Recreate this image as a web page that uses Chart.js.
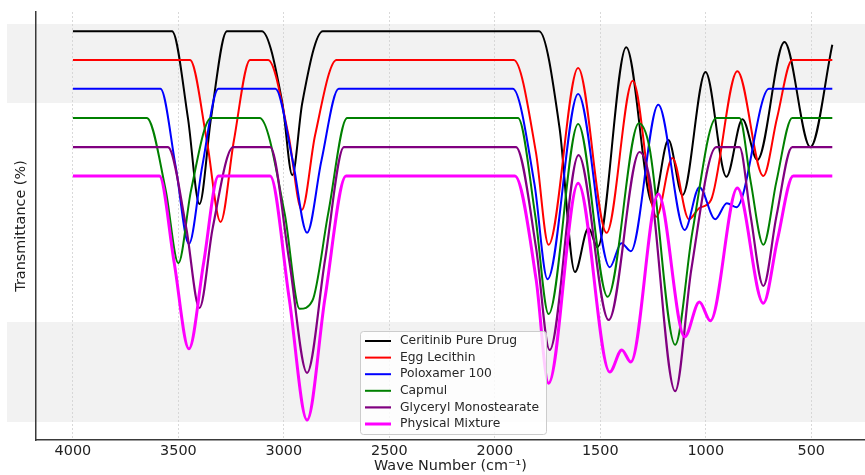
<!DOCTYPE html>
<html>
<head>
<meta charset="utf-8">
<title>FTIR spectra</title>
<script src="https://cdn.jsdelivr.net/npm/chart.js@4.4.1/dist/chart.umd.min.js"></script>
<style>
  body { margin: 0; background: #fff; }
  canvas { display: block; }
</style>
</head>
<body>
<canvas id="ftirChart" width="865" height="475"></canvas>
<script>
// Wave number ticks along the (reversed) x axis
const xTicks = [4000, 3500, 3000, 2500, 2000, 1500, 1000, 500];

// Each spectrum: wave numbers (cm-1) and offset transmittance values
const ceritinibWn = [4000, 3530, 3455, 3400, 3345, 3270, 3105, 3007, 2960, 2913, 2815, 1790, 1693, 1620, 1556, 1513, 1377, 1250, 1177, 1110, 1001, 902, 826, 755, 627, 504, 400];
const ceritinibT  = [102.2, 102.2, 80.6, 59, 80.6, 102.2, 102.2, 84.2, 66.2, 84.2, 102.2, 102.2, 78, 42, 53, 48.2, 98.2, 58.8, 75, 61.2, 92, 65.8, 80.2, 70, 99.5, 73.2, 98.8];

const lecithinWn = [4000, 3445, 3365, 3300, 3237, 3160, 3075, 2978, 2915, 2852, 2750, 1910, 1805, 1745, 1605, 1470, 1346, 1234, 1158, 1080, 1030, 975, 850, 727, 662, 590, 400];
const lecithinT  = [95, 95, 74.8, 54.5, 74.8, 95, 95, 76.2, 57.5, 76.2, 95, 95, 71.9, 48.8, 93, 51.8, 89.8, 55.8, 70.5, 55.2, 58, 60, 92.2, 66, 80.5, 95, 95];

const poloxamerWn = [4000, 3585, 3513, 3450, 3387, 3310, 3040, 2958, 2890, 2822, 2740, 1915, 1812, 1750, 1605, 1455, 1400, 1355, 1225, 1100, 1030, 955, 900, 855, 700, 400];
const poloxamerT  = [87.8, 87.8, 68.4, 49, 68.4, 87.8, 87.8, 69.8, 51.8, 69.8, 87.8, 87.8, 64, 40.2, 86.5, 43.2, 49.2, 47.2, 83.8, 52.5, 63.2, 55.2, 59.2, 58.2, 87.8, 87.8];

const capmulWn = [4000, 3650, 3560, 3500, 3440, 3345, 3115, 2996, 2925, 2865, 2790, 2700, 1890, 1808, 1745, 1605, 1465, 1317, 1267, 1145, 1063, 950, 840, 787, 727, 665, 590, 400];
const capmulT  = [80.5, 80.5, 62.4, 44.2, 62.4, 80.5, 80.5, 56.6, 32.8, 34.8, 56.6, 80.5, 80.5, 56, 31.5, 79, 35.8, 79.2, 73.2, 23.8, 52.1, 80.5, 80.5, 64.6, 48.8, 64.6, 80.5, 80.5];

const gmsWn = [4000, 3550, 3463, 3400, 3337, 3240, 3065, 2975, 2890, 2805, 2715, 1900, 1804, 1740, 1603, 1460, 1314, 1265, 1145, 1068, 950, 840, 787, 727, 665, 590, 400];
const gmsT  = [73.2, 73.2, 53.1, 33, 53.1, 73.2, 73.2, 45, 16.8, 45, 73.2, 73.2, 47.9, 22.5, 71.2, 30, 72, 65, 12.2, 42.8, 73.2, 73.2, 55.9, 38.5, 55.9, 73.2, 73.2];

const mixtureWn = [4000, 3590, 3520, 3450, 3380, 3310, 3065, 2975, 2890, 2805, 2705, 1905, 1804, 1745, 1605, 1455, 1398, 1355, 1225, 1100, 1030, 978, 850, 727, 660, 585, 400];
const mixtureT  = [66, 66, 44.4, 22.8, 44.4, 66, 66, 35.5, 5, 35.5, 66, 66, 40.1, 14.2, 64.2, 17, 22.5, 19.5, 61.5, 25.8, 34.5, 29.8, 63, 34.2, 50.1, 66, 66];

const seriesLabels = ['Ceritinib Pure Drug', 'Egg Lecithin', 'Poloxamer 100', 'Capmul', 'Glyceryl Monostearate', 'Physical Mixture'];

const spectra = [
  [ceritinibWn, ceritinibT],
  [lecithinWn, lecithinT],
  [poloxamerWn, poloxamerT],
  [capmulWn, capmulT],
  [gmsWn, gmsT],
  [mixtureWn, mixtureT]
];

const lineColors = ['#000000', '#ff0000', '#0000ff', '#008000', '#800080', '#ff00ff'];
const lineWidths = [2, 2, 2, 2, 2.2, 3];

const FONT = 'DejaVu Sans';

// light grey background bands behind the plot
const bands = {
  id: 'bands',
  beforeDraw(chart) {
    const ctx = chart.ctx;
    ctx.save();
    ctx.fillStyle = '#f2f2f2';
    ctx.fillRect(7, 24, chart.width - 7, 79);
    ctx.fillRect(7, 322, chart.width - 7, 100);
    ctx.restore();
  }
};

// boxed legend at the bottom centre of the plot area
const legendBox = {
  id: 'legendBox',
  afterDraw(chart) {
    const ctx = chart.ctx;
    const x = 360, y = 331, w = 186, h = 103, rowH = 16.6;
    ctx.save();
    ctx.beginPath();
    ctx.roundRect(x + 0.5, y + 0.5, w, h, 3);
    ctx.fillStyle = 'rgba(255,255,255,0.8)';
    ctx.fill();
    ctx.strokeStyle = '#cccccc';
    ctx.lineWidth = 1;
    ctx.stroke();
    ctx.font = '12.3px "' + FONT + '"';
    ctx.textBaseline = 'middle';
    chart.data.datasets.forEach((ds, i) => {
      const cy = y + 10 + i * rowH;
      ctx.strokeStyle = ds.borderColor;
      ctx.lineWidth = ds.borderWidth;
      ctx.beginPath();
      ctx.moveTo(x + 5, cy);
      ctx.lineTo(x + 31, cy);
      ctx.stroke();
      ctx.fillStyle = '#262626';
      ctx.fillText(ds.label, x + 40, cy);
    });
    ctx.restore();
  }
};

const ctx = document.getElementById('ftirChart').getContext('2d');

const chart = new Chart(ctx, {
  type: 'line',
  data: {
    datasets: spectra.map(([wn, t], i) => ({
      label: seriesLabels[i],
      data: wn.map((w, k) => ({ x: w, y: t[k] })),
      borderColor: lineColors[i],
      borderWidth: lineWidths[i],
      order: spectra.length - 1 - i,
      cubicInterpolationMode: 'monotone',
      pointRadius: 0,
      fill: false
    }))
  },
  options: {
    responsive: false,
    animation: false,
    devicePixelRatio: 1,
    events: [],
    layout: { padding: { top: 12, left: 0, right: 0, bottom: 0 } },
    plugins: {
      legend: { display: false },
      tooltip: { enabled: false }
    },
    scales: {
      x: {
        type: 'linear',
        reverse: true,
        min: 245,
        max: 4175,
        afterBuildTicks(scale) {
          scale.ticks = xTicks.map(v => ({ value: v }));
        },
        afterFit(scale) { scale.height = 35; },
        ticks: {
          color: '#222',
          font: { family: FONT, size: 14.4 },
          padding: 3,
          maxRotation: 0,
          autoSkip: false,
          callback: v => String(v)
        },
        grid: { display: true, color: '#d0d0d0', lineWidth: 0.8, drawTicks: false },
        border: { display: true, color: '#3a3a3a', width: 1.5, dash: [2, 2] },
        title: {
          display: true,
          text: 'Wave Number (cm⁻¹)',
          color: '#222',
          font: { family: FONT, size: 14.4 },
          padding: { top: 0, bottom: 0 }
        }
      },
      y: {
        min: 0,
        max: 107,
        afterFit(scale) { scale.width = 36; },
        ticks: { display: false },
        grid: { display: false },
        border: { display: true, color: '#3a3a3a', width: 1.5 },
        title: {
          display: true,
          text: 'Transmittance (%)',
          color: '#222',
          font: { family: FONT, size: 14.4 },
          padding: { top: 12.5, bottom: 0 }
        }
      }
    }
  },
  plugins: [bands, legendBox]
});
</script>
</body>
</html>
